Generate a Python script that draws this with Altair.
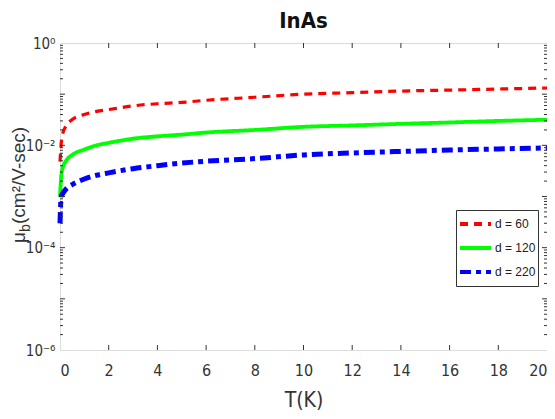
import altair as alt
import pandas as pd

# ---- data ----
T = [0.0, 0.05, 0.1, 0.25, 0.5, 1, 1.5, 2, 3, 4, 5, 6, 8, 10, 12, 14, 16, 18, 20]
mu_d60 = [4.8e-3, 1.1e-2, 1.6e-2, 2.4e-2, 3.2e-2, 4.0e-2, 4.6e-2, 5.0e-2, 5.9e-2, 6.5e-2,
          6.9e-2, 7.6e-2, 8.7e-2, 1.0e-1, 1.07e-1, 1.15e-1, 1.2e-1, 1.26e-1, 1.32e-1]
mu_d120 = [1.0e-3, 2.5e-3, 3.5e-3, 5.0e-3, 6.5e-3, 8.3e-3, 1.0e-2, 1.12e-2, 1.35e-2, 1.5e-2,
           1.62e-2, 1.78e-2, 2.0e-2, 2.3e-2, 2.45e-2, 2.63e-2, 2.8e-2, 3.0e-2, 3.16e-2]
mu_d220 = [3.0e-4, 1.0e-3, 1.12e-3, 1.4e-3, 1.7e-3, 2.2e-3, 2.6e-3, 2.9e-3, 3.5e-3, 4.0e-3,
           4.5e-3, 4.9e-3, 5.5e-3, 6.5e-3, 7.1e-3, 7.6e-3, 8.1e-3, 8.5e-3, 8.9e-3]
series = ["d = 60", "d = 120", "d = 220"]
x_tick_values = [0, 2, 4, 6, 8, 10, 12, 14, 16, 18, 20]
y_major_ticks = [1e-6, 1e-4, 1e-2, 1]
y_decade_ticks = [1e-6, 1e-5, 1e-4, 1e-3, 1e-2, 1e-1, 1]
y_minor_ticks = [m * d for d in [1e-6, 1e-5, 1e-4, 1e-3, 1e-2, 1e-1] for m in range(2, 10)]
title_text = "InAs"
x_title = "T(K)"
y_title_parts = ["μ", "b", "(cm²/V-sec)"]

# ---- styles ----
colors = ["#ff0000", "#00ff00", "#0000ff"]
dashes = [[8, 6], [1, 0], [11, 5, 5, 5]]
widths = [3.2, 3.8, 5.0]
W, H = 487, 307
NARROW = "Liberation Sans Narrow, DejaVu Sans Condensed, Liberation Sans, Arial"
REG = "Liberation Sans, Arial"
AX = "#333333"

rows = []
for name, vals in zip(series, [mu_d60, mu_d120, mu_d220]):
    for t, v in zip(T, vals):
        rows.append({"T": t, "mu": v, "series": name})
df = pd.DataFrame(rows)

xs = alt.Scale(domain=[0, 20], nice=False, zero=False)
ys = alt.Scale(type="log", domain=[1e-6, 1], nice=False)

xaxis = alt.Axis(values=x_tick_values, format="d", ticks=False, tickSize=0, domain=False,
                 grid=False, labelFont=NARROW, labelFontSize=16, labelColor=AX,
                 labelPadding=12, titleFont=NARROW, titleFontSize=21,
                 titleFontWeight="normal", titleColor=AX, titleY=56,
                 titleBaseline="alphabetic")
yaxis = alt.Axis(values=y_major_ticks,
                 labelExpr="datum.value >= 0.5 ? '10⁰' : datum.value >= 0.005 ? '10⁻²' : datum.value >= 0.00005 ? '10⁻⁴' : '10⁻⁶'",
                 ticks=False, tickSize=0, domain=False, grid=False, labelFont=NARROW,
                 labelFontSize=15, labelColor=AX, labelPadding=5)

legend = alt.Legend(title=None, orient="none", legendX=396, legendY=167,
                    fillColor="white", strokeColor=AX, padding=2, cornerRadius=0,
                    symbolType="stroke", symbolSize=961, symbolStrokeWidth=4,
                    clipHeight=24, rowPadding=0,
                    labelFont=REG, labelFontSize=12, labelColor="#222222",
                    labelOffset=2)

color_enc = alt.Color("series:N", scale=alt.Scale(domain=series, range=colors), legend=legend)
dash_enc = alt.StrokeDash("series:N", scale=alt.Scale(domain=series, range=dashes), legend=legend)


def line_layer(name, w):
    return alt.Chart(df).transform_filter(alt.datum.series == name).mark_line(
        interpolate="monotone", strokeWidth=w).encode(
        x=alt.X("T:Q", scale=xs, axis=xaxis, title=x_title),
        y=alt.Y("mu:Q", scale=ys, axis=yaxis, title=""),
        color=color_enc, strokeDash=dash_enc)


line_layers = [line_layer(n, w) for n, w in zip(series, widths)]

xt_df = pd.DataFrame({"T": x_tick_values[1:-1]})
top_ticks = alt.Chart(xt_df).mark_rule(color=AX, strokeWidth=1).encode(
    x=alt.X("T:Q", scale=xs, axis=xaxis, title=x_title), y=alt.value(0), y2=alt.value(5))
bot_ticks = alt.Chart(xt_df).mark_rule(color=AX, strokeWidth=1).encode(
    x=alt.X("T:Q", scale=xs, axis=xaxis, title=x_title), y=alt.value(H - 5), y2=alt.value(H))

ymaj_df = pd.DataFrame({"mu": y_decade_ticks[1:-1]})
ymin_df = pd.DataFrame({"mu": y_minor_ticks})


def yrule(d, x0, x1):
    return alt.Chart(d).mark_rule(color=AX, strokeWidth=1).encode(
        y=alt.Y("mu:Q", scale=ys, axis=yaxis, title=""), x=alt.value(x0), x2=alt.value(x1))


tick_layers = [yrule(ymaj_df, 0, 5), yrule(ymin_df, 0, 3),
               yrule(ymaj_df, W - 5, W), yrule(ymin_df, W - 3, W)]

one = pd.DataFrame({"a": [0]})
yt_mu = alt.Chart(one).mark_text(text=y_title_parts[0], font=REG, fontSize=19, angle=270,
                                 align="left", baseline="alphabetic", color=AX).encode(
    x=alt.value(-35), y=alt.value(200))
yt_b = alt.Chart(one).mark_text(text=y_title_parts[1], font=REG, fontSize=14, angle=270,
                                align="left", baseline="alphabetic", color=AX).encode(
    x=alt.value(-30), y=alt.value(189))
yt_rest = alt.Chart(one).mark_text(text=y_title_parts[2], font=REG, fontSize=19, angle=270,
                                   align="left", baseline="alphabetic", color=AX).encode(
    x=alt.value(-35), y=alt.value(181))

chart = alt.layer(*line_layers, top_ticks, bot_ticks, *tick_layers, yt_mu, yt_b, yt_rest).properties(
    width=W, height=H,
    title=alt.TitleParams(title_text, font=NARROW, fontSize=22, fontWeight="bold",
                          color="#111111", offset=3),
    autosize=alt.AutoSizeParams(type="none"),
    padding={"left": 52, "top": 35, "right": 0, "bottom": 61},
).configure_view(stroke=AX, strokeWidth=1).configure(background="white")

chart.save("out.html", embed_options={"renderer": "svg", "actions": False})
